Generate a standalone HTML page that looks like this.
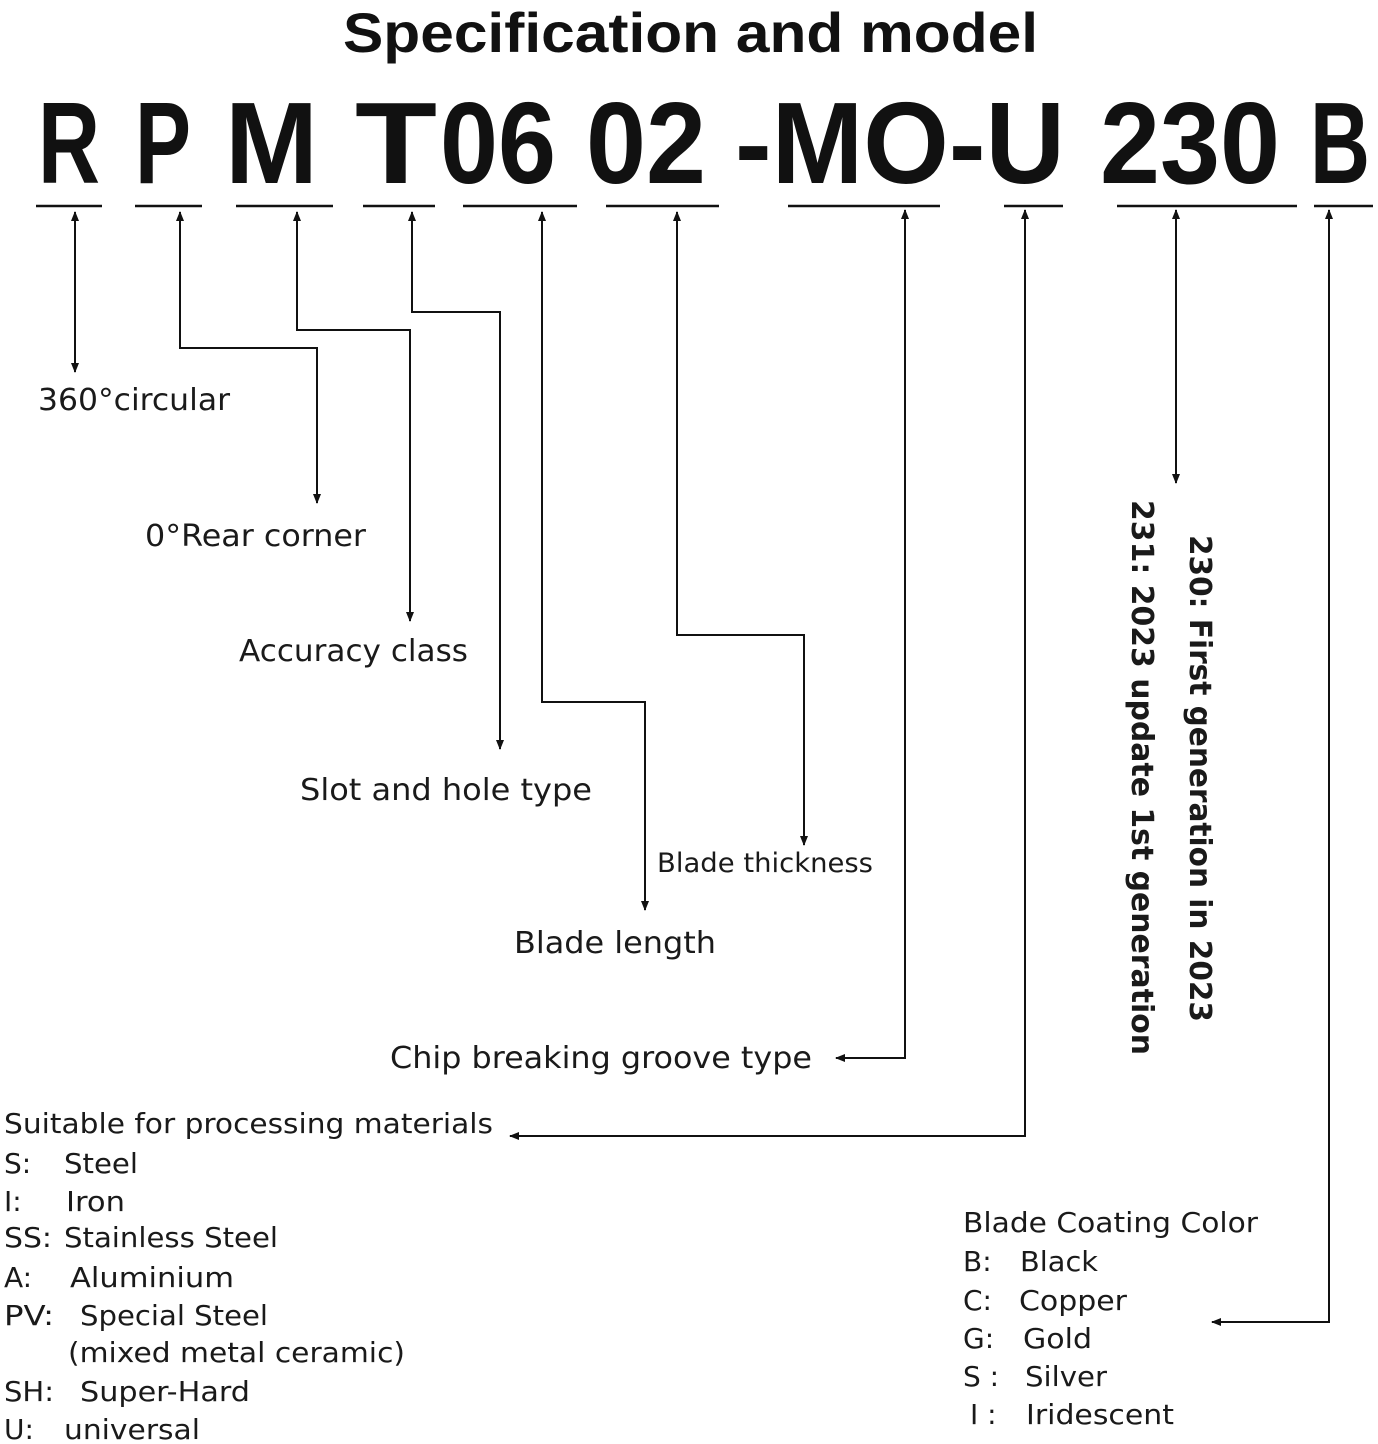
<!DOCTYPE html>
<html><head><meta charset="utf-8"><style>
html,body{margin:0;padding:0;background:#fff;}
svg{display:block;}
text{font-family:"Liberation Sans",sans-serif;fill:#111;}
.d text{font-family:"DejaVu Sans",sans-serif;fill:#1a1a1a;}
</style></head><body>
<svg width="1378" height="1444" viewBox="0 0 1378 1444" xmlns="http://www.w3.org/2000/svg">
<defs>
<marker id="a" markerWidth="10" markerHeight="10" refX="9" refY="5" orient="auto-start-reverse" markerUnits="userSpaceOnUse">
<path d="M0,1 L10,5 L0,9 Z" fill="#111"/></marker>
</defs>
<text x="343" y="52" font-size="56" font-weight="bold" textLength="695" lengthAdjust="spacingAndGlyphs">Specification and model</text>
<g font-size="116" font-weight="bold">
<text x="38" y="183" textLength="62" lengthAdjust="spacingAndGlyphs">R</text>
<text x="135" y="183" textLength="56" lengthAdjust="spacingAndGlyphs">P</text>
<text x="225" y="183" textLength="93" lengthAdjust="spacingAndGlyphs">M</text>
<text x="355" y="183" textLength="82" lengthAdjust="spacingAndGlyphs">T</text>
<text x="440" y="183" textLength="116" lengthAdjust="spacingAndGlyphs">06</text>
<text x="586" y="183" textLength="120" lengthAdjust="spacingAndGlyphs">02</text>
<text x="735" y="183" textLength="330" lengthAdjust="spacingAndGlyphs">-MO-U</text>
<text x="1100" y="183" textLength="180" lengthAdjust="spacingAndGlyphs">230</text>
<text x="1310" y="183" textLength="60" lengthAdjust="spacingAndGlyphs">B</text>
</g>
<g stroke="#111" stroke-width="2.5">
<line x1="36" y1="206" x2="102" y2="206"/><line x1="135" y1="206" x2="202" y2="206"/>
<line x1="236" y1="206" x2="333" y2="206"/><line x1="363" y1="206" x2="435" y2="206"/>
<line x1="463" y1="206" x2="577" y2="206"/><line x1="606" y1="206" x2="719" y2="206"/>
<line x1="788" y1="206" x2="940" y2="206"/><line x1="1004" y1="206" x2="1063" y2="206"/>
<line x1="1117" y1="206" x2="1297" y2="206"/><line x1="1314" y1="206" x2="1373" y2="206"/>
</g>
<g stroke="#111" stroke-width="2" fill="none">
<path d="M75,212 V372" marker-start="url(#a)" marker-end="url(#a)"/>
<path d="M180,212 V348 H317 V503" marker-start="url(#a)" marker-end="url(#a)"/>
<path d="M297,212 V330 H410 V621" marker-start="url(#a)" marker-end="url(#a)"/>
<path d="M412,212 V312 H500 V749" marker-start="url(#a)" marker-end="url(#a)"/>
<path d="M542,212 V702 H645 V910" marker-start="url(#a)" marker-end="url(#a)"/>
<path d="M677,212 V635 H804 V845" marker-start="url(#a)" marker-end="url(#a)"/>
<path d="M905,210 V1058 H836" marker-start="url(#a)" marker-end="url(#a)"/>
<path d="M1025,210 V1136 H510" marker-start="url(#a)" marker-end="url(#a)"/>
<path d="M1176,210 V483" marker-start="url(#a)" marker-end="url(#a)"/>
<path d="M1329,210 V1322 H1212" marker-start="url(#a)" marker-end="url(#a)"/>
</g>
<g class="d">
<g font-size="30">
<text x="38" y="410" textLength="192" lengthAdjust="spacingAndGlyphs">360°circular</text>
<text x="145" y="546" textLength="221" lengthAdjust="spacingAndGlyphs">0°Rear corner</text>
<text x="239" y="661" textLength="229" lengthAdjust="spacingAndGlyphs">Accuracy class</text>
<text x="300" y="800" textLength="292" lengthAdjust="spacingAndGlyphs">Slot and hole type</text>
<text x="657" y="872" font-size="27" textLength="216" lengthAdjust="spacingAndGlyphs">Blade thickness</text>
<text x="514" y="953" textLength="202" lengthAdjust="spacingAndGlyphs">Blade length</text>
<text x="390" y="1068" textLength="422" lengthAdjust="spacingAndGlyphs">Chip breaking groove type</text>
</g>
<g font-size="28">
<text x="4" y="1133" textLength="489" lengthAdjust="spacingAndGlyphs">Suitable for processing materials</text>
<text x="4" y="1173">S:</text><text x="64" y="1173" textLength="74" lengthAdjust="spacingAndGlyphs">Steel</text>
<text x="4" y="1211">I:</text><text x="66" y="1211" textLength="59" lengthAdjust="spacingAndGlyphs">Iron</text>
<text x="4" y="1247" textLength="48" lengthAdjust="spacingAndGlyphs">SS:</text><text x="64" y="1247" textLength="214" lengthAdjust="spacingAndGlyphs">Stainless Steel</text>
<text x="4" y="1287">A:</text><text x="70" y="1287" textLength="164" lengthAdjust="spacingAndGlyphs">Aluminium</text>
<text x="4" y="1325" textLength="50" lengthAdjust="spacingAndGlyphs">PV:</text><text x="80" y="1325" textLength="188" lengthAdjust="spacingAndGlyphs">Special Steel</text>
<text x="68" y="1362" textLength="337" lengthAdjust="spacingAndGlyphs">(mixed metal ceramic)</text>
<text x="4" y="1401" textLength="50" lengthAdjust="spacingAndGlyphs">SH:</text><text x="80" y="1401" textLength="170" lengthAdjust="spacingAndGlyphs">Super-Hard</text>
<text x="4" y="1439">U:</text><text x="64" y="1439" textLength="136" lengthAdjust="spacingAndGlyphs">universal</text>
<text x="963" y="1232" textLength="295" lengthAdjust="spacingAndGlyphs">Blade Coating Color</text>
<text x="963" y="1271">B:</text><text x="1020" y="1271" textLength="78" lengthAdjust="spacingAndGlyphs">Black</text>
<text x="963" y="1310">C:</text><text x="1019" y="1310" textLength="108" lengthAdjust="spacingAndGlyphs">Copper</text>
<text x="963" y="1348">G:</text><text x="1023" y="1348" textLength="69" lengthAdjust="spacingAndGlyphs">Gold</text>
<text x="963" y="1386">S :</text><text x="1025" y="1386" textLength="82" lengthAdjust="spacingAndGlyphs">Silver</text>
<text x="970" y="1424">I :</text><text x="1026" y="1424" textLength="148" lengthAdjust="spacingAndGlyphs">Iridescent</text>
</g>
<g font-size="30" font-weight="bold">
<text transform="translate(1190,535) rotate(90)" textLength="487" lengthAdjust="spacingAndGlyphs">230: First generation in 2023</text>
<text transform="translate(1132,500) rotate(90)" textLength="555" lengthAdjust="spacingAndGlyphs">231: 2023 update 1st generation</text>
</g>
</g>
</svg>
</body></html>
